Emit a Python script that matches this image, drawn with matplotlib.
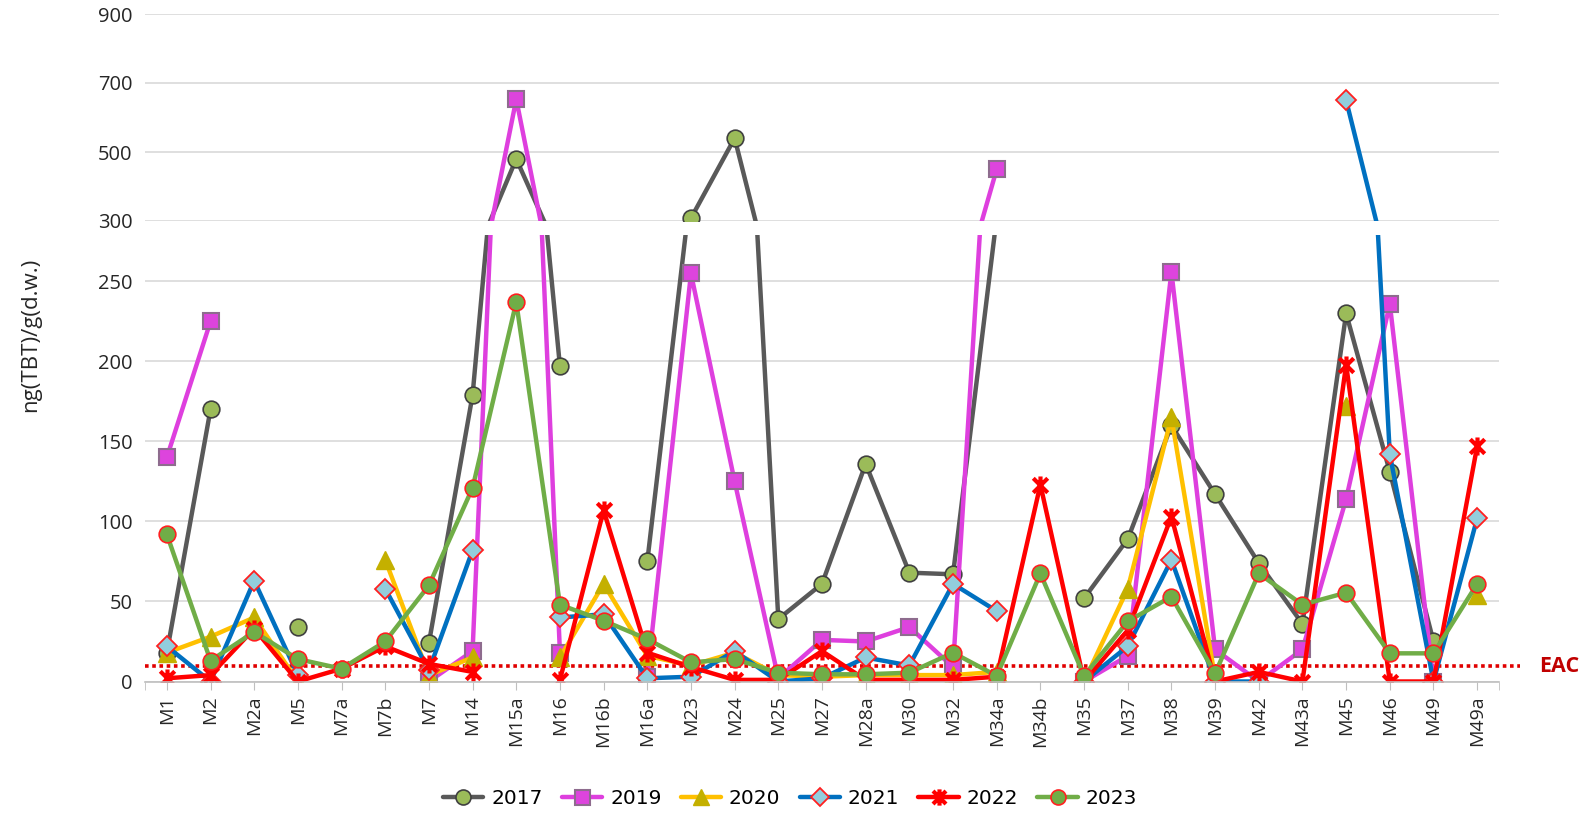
import numpy as np
import matplotlib
matplotlib.use("Agg")
import matplotlib.pyplot as plt
from matplotlib.path import Path

plt.rcParams['font.family'] = ['Open Sans', 'DejaVu Sans']

nan = np.nan

categories = ["M1", "M2", "M2a", "M5", "M7a", "M7b", "M7", "M14", "M15a", "M16", "M16b",
              "M16a", "M23", "M24", "M25", "M27", "M28a", "M30", "M32", "M34a", "M34b",
              "M35", "M37", "M38", "M39", "M42", "M43a", "M45", "M46", "M49", "M49a"]

years = ["2017", "2019", "2020", "2021", "2022", "2023"]

v2017 = [18, 170, nan, 34, nan, nan, 24, 179, 480, 197, nan,
         75, 308, 540, 39, 61, 136, 68, 67, 290, nan,
         52, 89, 160, 117, 74, 36, 230, 131, 25, nan]
v2019 = [140, 225, nan, nan, nan, nan, 0, 19, 653, 18, nan,
         3, 255, 125, 2, 26, 25, 34, 9, 450, nan,
         0, 16, 256, 20, 0, 20, 114, 236, 0, nan]
v2020 = [18, 28, 40, 0, nan, 76, 4, 15, nan, 15, 61,
         16, 10, 18, 4, 3, 4, 4, 4, 6, nan,
         0, 58, 165, 2, nan, nan, 172, nan, nan, 54]
v2021 = [22, 0, 63, 4, nan, 58, 7, 82, nan, 40, 42,
         2, 3, 19, 0, 2, 15, 10, 61, 44, nan,
         0, 22, 76, 0, 0, nan, 650, 142, 0, 102]
v2022 = [2, 4, 33, 0, 8, 22, 11, 6, nan, 1, 107,
         18, 9, 1, 1, 19, 1, 1, 1, 3, 123,
         0, 32, 103, 0, 6, 0, 198, 0, 0, 147]
v2023 = [92, 13, 31, 14, 8, 25, 60, 121, 237, 48, 38,
         26.5, 12, 14, 5.5, 4.5, 4.5, 5.5, 18, 3.5, 67.5,
         3.5, 37.6, 53, 5, 67.5, 48, 55.5, 17.6, 17.6, 61]

series = [v2017, v2019, v2020, v2021, v2022, v2023]

EAC = 9.5

lower_ticks = [0, 50, 100, 150, 200, 250]
upper_ticks = [300, 500, 700, 900]

# Excel-like "star" marker: X with a vertical bar
star = Path([(-1, -1), (1, 1), (-1, 1), (1, -1), (0, -1.25), (0, 1.25)],
            [Path.MOVETO, Path.LINETO, Path.MOVETO, Path.LINETO, Path.MOVETO, Path.LINETO])

styles = [
    dict(color='#595959', marker='o', ms=12, mfc='#9BBB59', mec='#404040', mew=1.2),
    dict(color='#DE3FDE', marker='s', ms=12, mfc='#DD44DD', mec='#8E6C8E', mew=1.5),
    dict(color='#FFC000', marker='^', ms=13, mfc='#C4B000', mec='#C4B000', mew=1),
    dict(color='#0070C0', marker='D', ms=10.5, mfc='#92CDDC', mec='#FF2020', mew=1.3),
    dict(color='#FF0000', marker=star, ms=13, mfc='none', mec='#FF0000', mew=3),
    dict(color='#70AD47', marker='o', ms=12, mfc='#70AD47', mec='#FF2020', mew=1.2),
]

W, H = 1590, 816
fig = plt.figure(figsize=(W / 100, H / 100), dpi=100)
left = 145 / W
width = (1499 - 145) / W
ax_lo = fig.add_axes([left, (H - 681.5) / H, width, (681.5 - 235) / H])
ax_hi = fig.add_axes([left, (H - 221) / H, width, (221 - 14) / H])

LO_RANGE = (0, 279)
HI_RANGE = (300, 900)

x = np.arange(len(categories))
handles = []
for vals, st, yr in zip(series, styles, years):
    y = np.array(vals, dtype=float)
    for ax, (ylo, yhi) in ((ax_lo, LO_RANGE), (ax_hi, HI_RANGE)):
        mask = [bool(np.isfinite(v) and ylo - 1 <= v <= yhi + 1) for v in y]
        ln, = ax.plot(x, y, lw=3.2, solid_capstyle='round', solid_joinstyle='round',
                      label=yr, markevery=mask, **st)
        if ax is ax_lo:
            handles.append(ln)

for ax in (ax_lo, ax_hi):
    ax.set_xlim(-0.5, len(categories) - 0.5)
    ax.yaxis.grid(True, color='#D9D9D9', lw=1.2)
    ax.set_axisbelow(True)
    for s in ('top', 'right', 'left'):
        ax.spines[s].set_visible(False)
    ax.tick_params(axis='y', length=0, pad=9, labelsize=14.5, labelcolor='#262626')

ax_lo.set_ylim(*LO_RANGE)
ax_lo.set_yticks(lower_ticks)
ax_lo.set_xticks(x)
ax_lo.set_xticklabels(categories, rotation=90, fontsize=14, color='#262626')
ax_lo.set_xticks([-0.5, len(categories) - 0.5], minor=True)
ax_lo.tick_params(axis='x', which='both', length=6, color='#BFBFBF', pad=4)
ax_lo.spines['bottom'].set_color('#BFBFBF')
ax_lo.spines['bottom'].set_linewidth(1.2)

ax_hi.set_ylim(*HI_RANGE)
ax_hi.set_yticks(upper_ticks)
ax_hi.set_xticks([])
ax_hi.spines['bottom'].set_visible(False)

# EAC threshold line (extends beyond the plot area)
step = (1499 - 145) / len(categories)
xr = len(categories) - 0.5 + (1520 - 1499) / step
ax_lo.plot([-0.5, xr], [EAC, EAC], color='#E00000', lw=2.6, ls=(0, (1, 1)),
           clip_on=False, zorder=1.5)
xt = len(categories) - 0.5 + (1539 - 1499) / step
ax_lo.text(xt, EAC, 'EAC', color='#C00000', fontsize=15.5, fontweight='bold',
           ha='left', va='center', clip_on=False)

fig.text(31 / W, 1 - 335 / H, 'ng(TBT)/g(d.w.)', rotation=90, ha='center', va='center',
         fontsize=16, color='#262626')

fig.legend(handles, years, loc='center', bbox_to_anchor=(790 / W, 1 - 799 / H), ncol=6,
           frameon=False, handlelength=2.0, columnspacing=0.95, handletextpad=0.4,
           numpoints=1, markerscale=0.9, prop={'family': 'DejaVu Sans', 'size': 14.5})

fig.savefig('out.png', dpi=100, facecolor='white')
